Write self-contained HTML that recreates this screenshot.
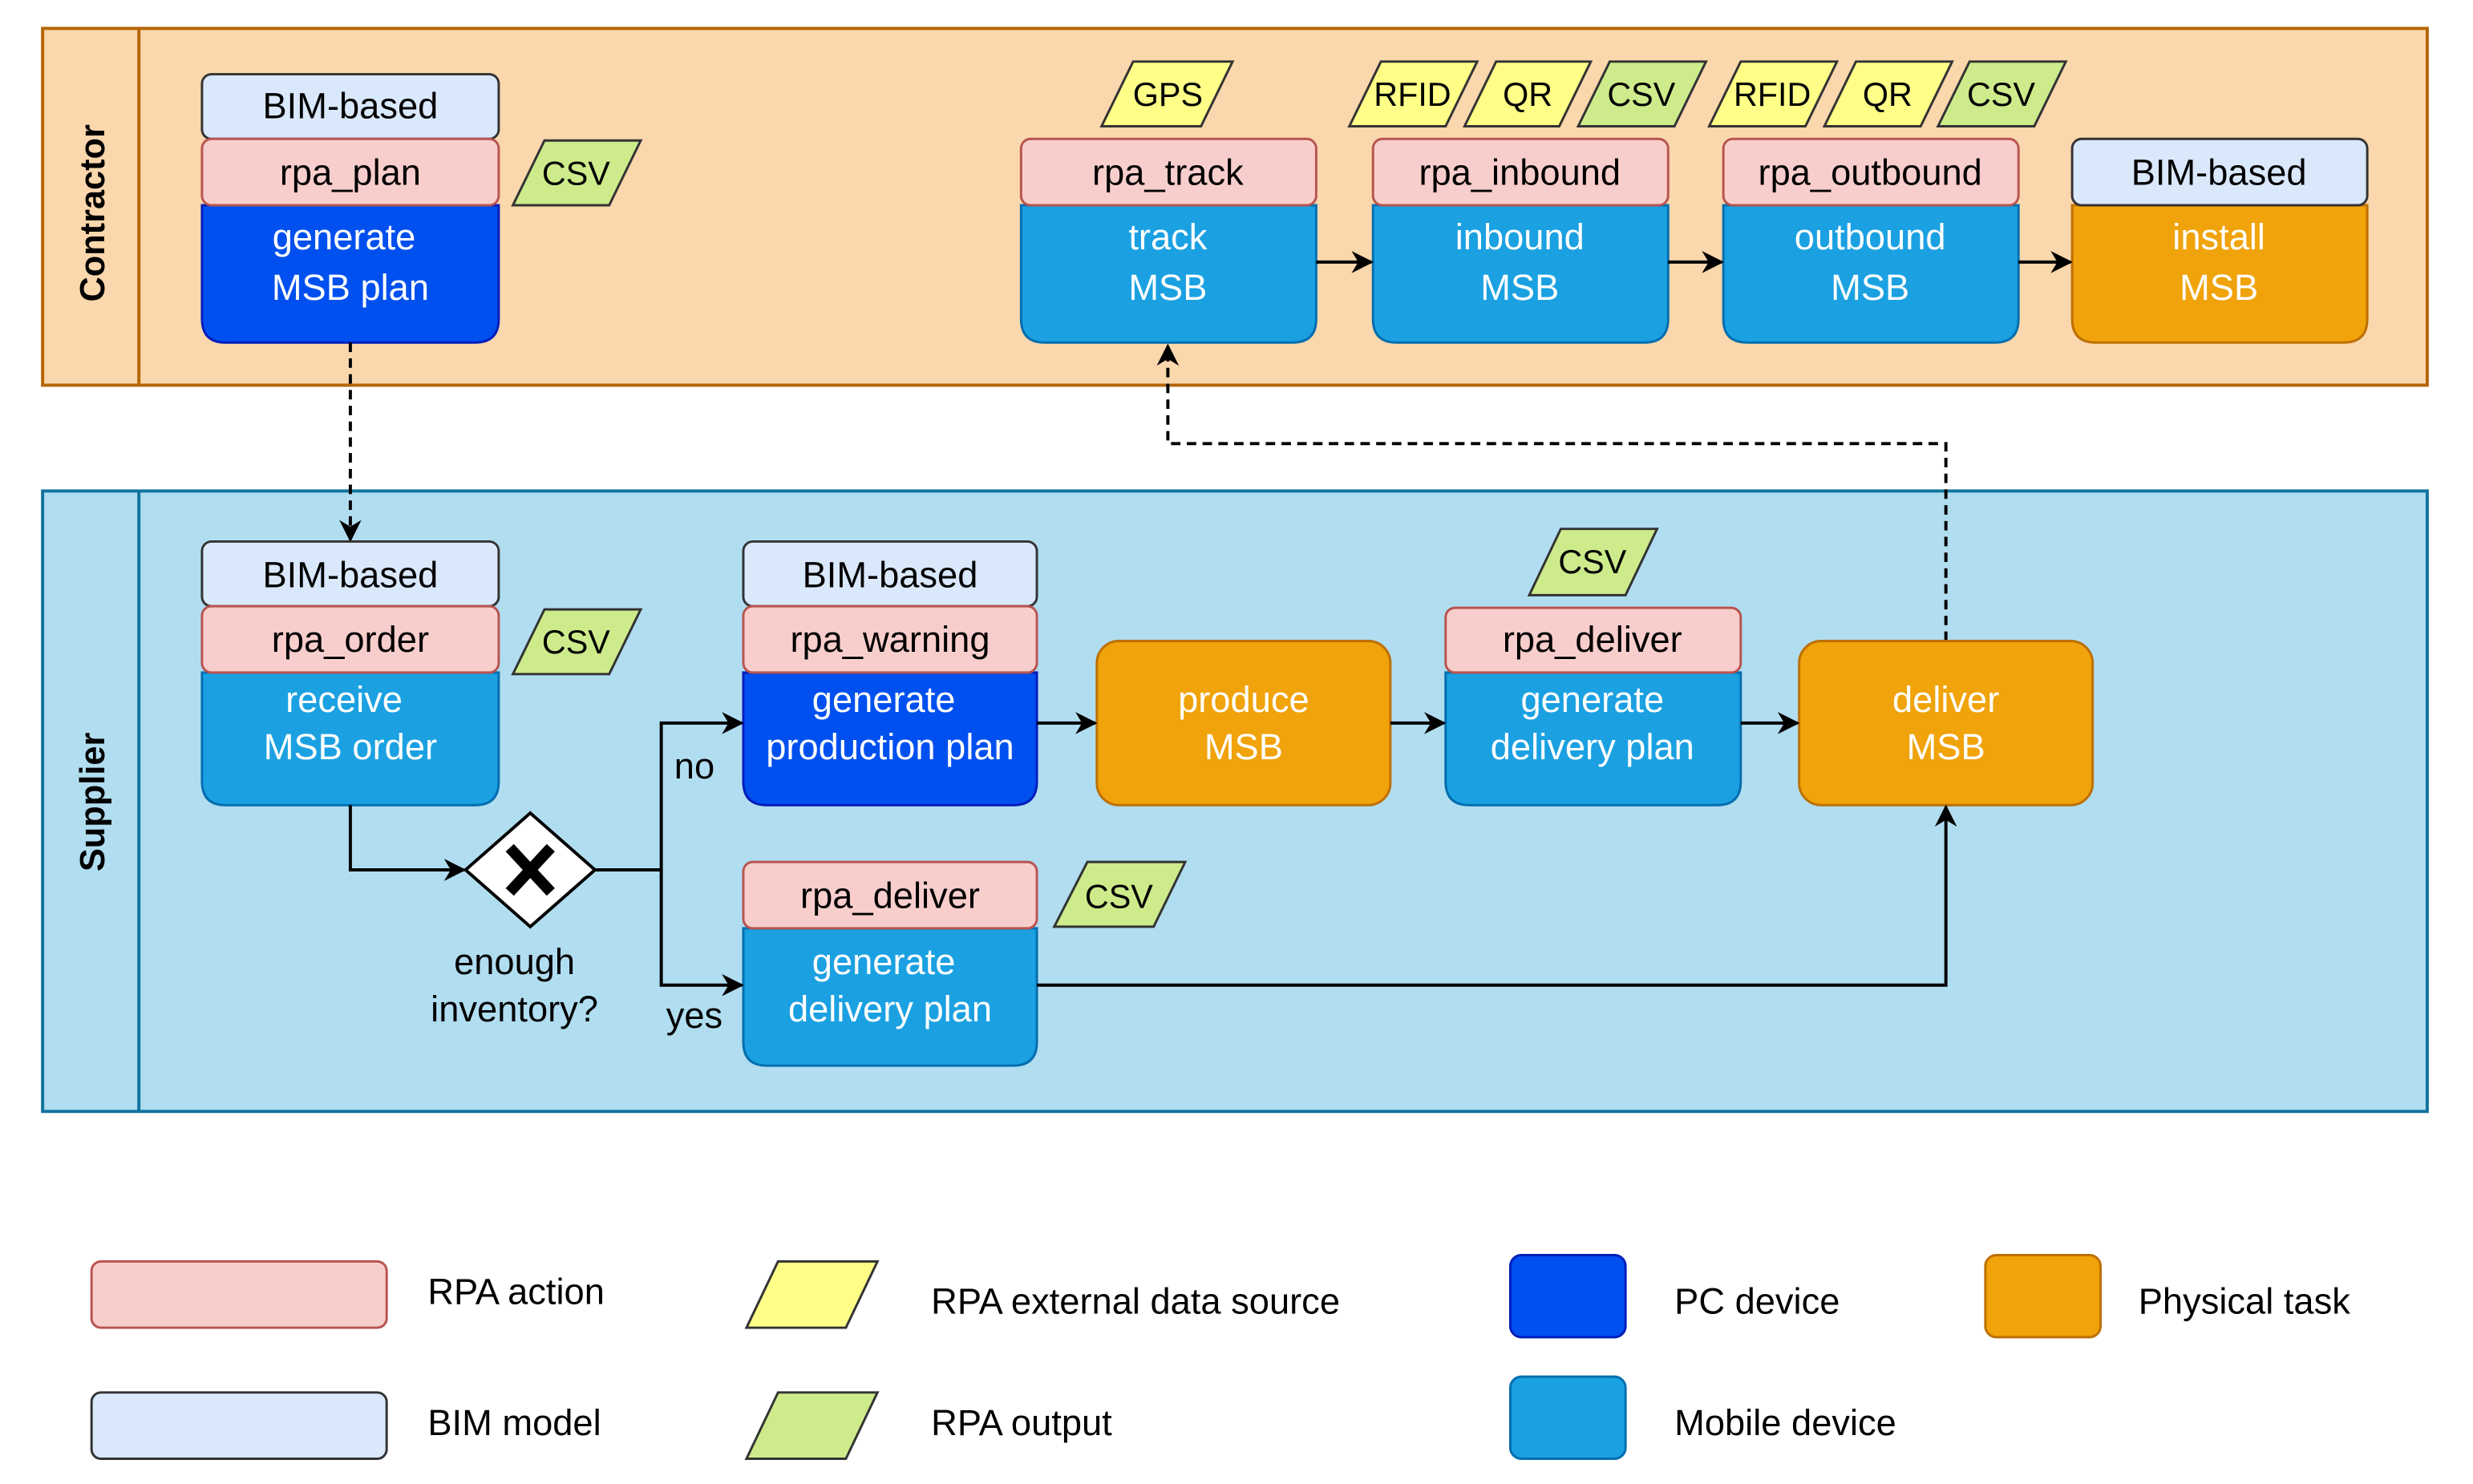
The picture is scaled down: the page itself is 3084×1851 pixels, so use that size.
<!DOCTYPE html>
<html><head><meta charset="utf-8"><style>
html,body{margin:0;padding:0;background:#fff;}
svg{display:block;}
text{font-family:"Liberation Sans",Arial,sans-serif;}
</style></head><body>
<svg width="3084" height="1851" viewBox="0 0 1567 940" preserveAspectRatio="none" xmlns="http://www.w3.org/2000/svg">
<defs>
<marker id="ar2" viewBox="0 0 10 10" refX="9" refY="5" markerWidth="14" markerHeight="14" orient="auto" markerUnits="userSpaceOnUse">
<path d="M0,0 L10,5 L0,10 L3,5 z" fill="#000"/></marker>
</defs>
<rect x="27" y="18" width="1511" height="226" fill="#fad7ac" stroke="#b46504" stroke-width="2"/>
<line x1="88" y1="18" x2="88" y2="244" stroke="#b46504" stroke-width="2"/>
<text transform="translate(66,135) rotate(-90)" text-anchor="middle" font-size="22" font-weight="bold">Contractor</text>
<rect x="27" y="311" width="1511" height="393" fill="#b1ddf0" stroke="#10739e" stroke-width="2"/>
<line x1="88" y1="311" x2="88" y2="704" stroke="#10739e" stroke-width="2"/>
<text transform="translate(66,508) rotate(-90)" text-anchor="middle" font-size="22" font-weight="bold">Supplier</text>

<g font-size="23" text-anchor="middle">
<path d="M128,130 H316 V202 Q316,217 301,217 H143 Q128,217 128,202 Z" fill="#0050ef" stroke="#001dbc" stroke-width="1.5"/>
<rect x="128" y="47" width="188" height="41" rx="6" fill="#dae8fc" stroke="#333" stroke-width="1.5"/>
<rect x="128" y="88" width="188" height="42" rx="6" fill="#f8cecc" stroke="#b85450" stroke-width="1.5"/>
<text x="222" y="75">BIM-based</text><text x="222" y="117">rpa_plan</text>
<text x="218" y="158" fill="#fff">generate</text><text x="222" y="190" fill="#fff">MSB plan</text>

<g stroke="#333" stroke-width="1.5">
<polygon points="345,89 406,89 386,130 325,130" fill="#cdeb8b"/>
<polygon points="718,39 781,39 761,80 698,80" fill="#ffff88"/>
<polygon points="875,39 936,39 916,80 855,80" fill="#ffff88"/>
<polygon points="948,39 1008,39 988,80 928,80" fill="#ffff88"/>
<polygon points="1020,39 1081,39 1061,80 1000,80" fill="#cdeb8b"/>
<polygon points="1103,39 1164,39 1144,80 1083,80" fill="#ffff88"/>
<polygon points="1176,39 1237,39 1217,80 1156,80" fill="#ffff88"/>
<polygon points="1248,39 1309,39 1289,80 1228,80" fill="#cdeb8b"/>
</g>
<g font-size="21">
<text x="365" y="117">CSV</text>
<text x="740" y="67">GPS</text>
<text x="895" y="67">RFID</text>
<text x="968" y="67">QR</text>
<text x="1040" y="67">CSV</text>
<text x="1123" y="67">RFID</text>
<text x="1196" y="67">QR</text>
<text x="1268" y="67">CSV</text>
</g>

<g stroke-width="1.5">
<path d="M647,130 H834 V202 Q834,217 819,217 H662 Q647,217 647,202 Z" fill="#1ba1e2" stroke="#006eaf"/>
<rect x="647" y="88" width="187" height="42" rx="6" fill="#f8cecc" stroke="#b85450"/>
<path d="M870,130 H1057 V202 Q1057,217 1042,217 H885 Q870,217 870,202 Z" fill="#1ba1e2" stroke="#006eaf"/>
<rect x="870" y="88" width="187" height="42" rx="6" fill="#f8cecc" stroke="#b85450"/>
<path d="M1092,130 H1279 V202 Q1279,217 1264,217 H1107 Q1092,217 1092,202 Z" fill="#1ba1e2" stroke="#006eaf"/>
<rect x="1092" y="88" width="187" height="42" rx="6" fill="#f8cecc" stroke="#b85450"/>
<path d="M1313,130 H1500 V202 Q1500,217 1485,217 H1328 Q1313,217 1313,202 Z" fill="#f0a30a" stroke="#bd7000"/>
<rect x="1313" y="88" width="187" height="42" rx="6" fill="#dae8fc" stroke="#333"/>
</g>
<text x="740" y="117">rpa_track</text><text x="740" y="158" fill="#fff">track</text><text x="740" y="190" fill="#fff">MSB</text>
<text x="963" y="117">rpa_inbound</text><text x="963" y="158" fill="#fff">inbound</text><text x="963" y="190" fill="#fff">MSB</text>
<text x="1185" y="117">rpa_outbound</text><text x="1185" y="158" fill="#fff">outbound</text><text x="1185" y="190" fill="#fff">MSB</text>
<text x="1406" y="117">BIM-based</text><text x="1406" y="158" fill="#fff">install</text><text x="1406" y="190" fill="#fff">MSB</text>

<g stroke="#000" stroke-width="2" fill="none" marker-end="url(#ar2)">
<line x1="834" y1="166" x2="869" y2="166"/>
<line x1="1057" y1="166" x2="1091" y2="166"/>
<line x1="1279" y1="166" x2="1312" y2="166"/>
</g>

<g stroke="#000" stroke-width="2" fill="none" stroke-dasharray="6,4" marker-end="url(#ar2)">
<polyline points="222,217 222,342"/>
<polyline points="1233,406 1233,281 740,281 740,219"/>
</g>

<g stroke-width="1.5">
<path d="M128,426 H316 V495 Q316,510 301,510 H143 Q128,510 128,495 Z" fill="#1ba1e2" stroke="#006eaf"/>
<rect x="128" y="343" width="188" height="41" rx="6" fill="#dae8fc" stroke="#333"/>
<rect x="128" y="384" width="188" height="42" rx="6" fill="#f8cecc" stroke="#b85450"/>
<path d="M471,426 H657 V495 Q657,510 642,510 H486 Q471,510 471,495 Z" fill="#0050ef" stroke="#001dbc"/>
<rect x="471" y="343" width="186" height="41" rx="6" fill="#dae8fc" stroke="#333"/>
<rect x="471" y="384" width="186" height="42" rx="6" fill="#f8cecc" stroke="#b85450"/>
<rect x="695" y="406" width="186" height="104" rx="14" fill="#f0a30a" stroke="#bd7000"/>
<path d="M916,426 H1103 V495 Q1103,510 1088,510 H931 Q916,510 916,495 Z" fill="#1ba1e2" stroke="#006eaf"/>
<rect x="916" y="385" width="187" height="41" rx="6" fill="#f8cecc" stroke="#b85450"/>
<rect x="1140" y="406" width="186" height="104" rx="14" fill="#f0a30a" stroke="#bd7000"/>
<path d="M471,588 H657 V660 Q657,675 642,675 H486 Q471,675 471,660 Z" fill="#1ba1e2" stroke="#006eaf"/>
<rect x="471" y="546" width="186" height="42" rx="6" fill="#f8cecc" stroke="#b85450"/>
</g>
<g stroke="#333" stroke-width="1.5">
<polygon points="345,386 406,386 386,427 325,427" fill="#cdeb8b"/>
<polygon points="989,335 1050,335 1030,377 969,377" fill="#cdeb8b"/>
<polygon points="689,546 751,546 731,587 668,587" fill="#cdeb8b"/>
</g>
<g font-size="21">
<text x="365" y="414">CSV</text><text x="1009" y="363">CSV</text><text x="709" y="575">CSV</text>
</g>
<text x="222" y="372">BIM-based</text><text x="222" y="413">rpa_order</text>
<text x="218" y="451" fill="#fff">receive</text><text x="222" y="481" fill="#fff">MSB order</text>
<text x="564" y="372">BIM-based</text><text x="564" y="413">rpa_warning</text>
<text x="560" y="451" fill="#fff">generate</text><text x="564" y="481" fill="#fff">production plan</text>
<text x="788" y="451" fill="#fff">produce</text><text x="788" y="481" fill="#fff">MSB</text>
<text x="1009" y="413">rpa_deliver</text>
<text x="1009" y="451" fill="#fff">generate</text><text x="1009" y="481" fill="#fff">delivery plan</text>
<text x="1233" y="451" fill="#fff">deliver</text><text x="1233" y="481" fill="#fff">MSB</text>
<text x="564" y="575">rpa_deliver</text>
<text x="560" y="617" fill="#fff">generate</text><text x="564" y="647" fill="#fff">delivery plan</text>

<polygon points="336,515 377,551 336,587 295,551" fill="#fff" stroke="#000" stroke-width="2"/>
<g stroke="#000" stroke-width="7" stroke-linecap="butt">
<line x1="323" y1="537" x2="349" y2="565"/><line x1="349" y1="537" x2="323" y2="565"/>
</g>
<text x="326" y="617">enough</text><text x="326" y="647">inventory?</text>
<text x="440" y="493">no</text><text x="440" y="651">yes</text>

<g stroke="#000" stroke-width="2" fill="none" marker-end="url(#ar2)">
<polyline points="222,510 222,551 294,551"/>
<polyline points="377,551 419,551 419,458 470,458"/>
<polyline points="419,551 419,624 470,624"/>
<line x1="657" y1="458" x2="694" y2="458"/>
<line x1="881" y1="458" x2="915" y2="458"/>
<line x1="1103" y1="458" x2="1139" y2="458"/>
<polyline points="657,624 1233,624 1233,511"/>
</g>

<g stroke-width="1.5">
<rect x="58" y="799" width="187" height="42" rx="6" fill="#f8cecc" stroke="#b85450"/>
<rect x="58" y="882" width="187" height="42" rx="6" fill="#dae8fc" stroke="#333"/>
<polygon points="493,799 556,799 536,841 473,841" fill="#ffff88" stroke="#333"/>
<polygon points="493,882 556,882 536,924 473,924" fill="#cdeb8b" stroke="#333"/>
<rect x="957" y="795" width="73" height="52" rx="7" fill="#0050ef" stroke="#001dbc"/>
<rect x="957" y="872" width="73" height="52" rx="7" fill="#1ba1e2" stroke="#006eaf"/>
<rect x="1258" y="795" width="73" height="52" rx="7" fill="#f0a30a" stroke="#bd7000"/>
</g>
<g text-anchor="start">
<text x="271" y="826">RPA action</text>
<text x="271" y="909">BIM model</text>
<text x="590" y="832">RPA external data source</text>
<text x="590" y="909">RPA output</text>
<text x="1061" y="832">PC device</text>
<text x="1061" y="909">Mobile device</text>
<text x="1355" y="832">Physical task</text>
</g>
</g>
</svg>
</body></html>
